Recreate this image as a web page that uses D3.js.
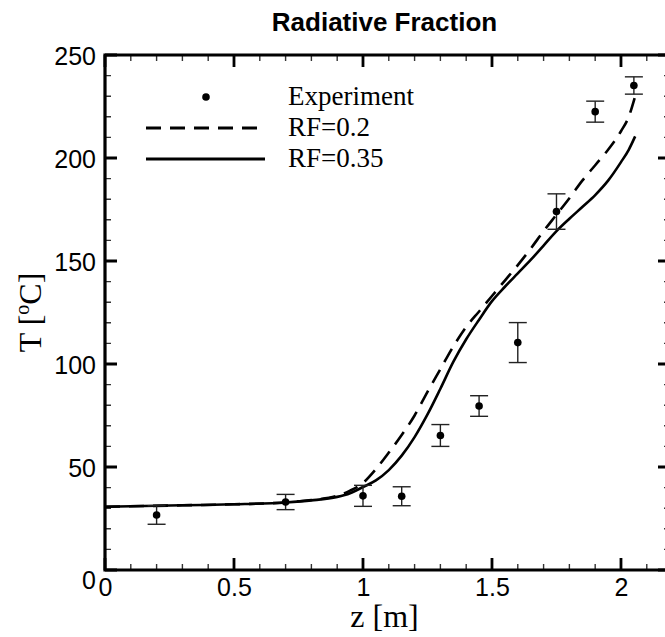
<!DOCTYPE html>
<html>
<head>
<meta charset="utf-8">
<script src="https://cdn.jsdelivr.net/npm/d3@7"></script>
</head>
<body style="margin:0">
<svg id="chart" width="665" height="637"></svg>
<script>
// Measured temperatures along the axis (z in m, T in °C, symmetric error)
const expZ   = [0.2, 0.7, 1.0, 1.15, 1.3, 1.45, 1.6, 1.75, 1.9, 2.05];
const expT   = [26.7, 33.0, 36.0, 35.8, 65.3, 79.6, 110.4, 174.0, 222.5, 235.2];
const expErr = [4.5, 3.7, 5.1, 4.6, 5.3, 5.0, 9.7, 8.6, 5.1, 4.2];

// Simulation, radiative fraction 0.2
const rf02Z = [0, 0.3, 0.5, 0.7, 0.8, 0.9, 0.95, 1.0, 1.05, 1.1, 1.15, 1.2, 1.25, 1.3, 1.35, 1.4, 1.45, 1.5, 1.55, 1.6, 1.65, 1.7, 1.75, 1.8, 1.85, 1.9, 1.95, 2.0, 2.03, 2.055];
const rf02T = [30.7, 31.4, 31.9, 32.8, 34.0, 36.0, 38.5, 42.3, 49.0, 57.0, 65.5, 75.0, 86.5, 97.5, 108.5, 118.0, 125.5, 133.0, 140.5, 148.0, 156.0, 164.5, 172.5, 180.5, 189.0, 196.5, 204.0, 213.0, 220.0, 230.0];

// Simulation, radiative fraction 0.35
const rf035Z = [0, 0.3, 0.5, 0.7, 0.8, 0.9, 0.95, 1.0, 1.05, 1.1, 1.15, 1.2, 1.25, 1.3, 1.35, 1.4, 1.45, 1.5, 1.55, 1.6, 1.65, 1.7, 1.75, 1.8, 1.85, 1.9, 1.95, 2.0, 2.03, 2.055];
const rf035T = [30.7, 31.4, 31.9, 32.8, 33.8, 35.5, 37.3, 40.3, 43.5, 48.5, 55.5, 64.5, 75.5, 88.0, 101.0, 112.0, 121.5, 130.5, 137.5, 144.0, 150.5, 157.5, 164.5, 170.5, 176.2, 182.0, 189.0, 198.0, 204.0, 210.5];

// Axis ticks
const xMajor = [0, 0.5, 1, 1.5, 2];
const xMinor = [0.1, 0.2, 0.3, 0.4, 0.6, 0.7, 0.8, 0.9, 1.1, 1.2, 1.3, 1.4, 1.6, 1.7, 1.8, 1.9, 2.1];
const yMajor = [0, 50, 100, 150, 200, 250];
const yMinor = [10, 20, 30, 40, 60, 70, 80, 90, 110, 120, 130, 140, 160, 170, 180, 190, 210, 220, 230, 240];
const xLabels = ["0", "0.5", "1", "1.5", "2"];
const yLabels = ["0", "50", "100", "150", "200", "250"];

const legendItems = ["Experiment", "RF=0.2", "RF=0.35"];

const svg = d3.select("#chart");
const plotL = 105, plotR = 670, plotT = 55, plotB = 570;

const x = d3.scaleLinear().domain([0, 2.19]).range([plotL, plotR]);
const y = d3.scaleLinear().domain([0, 250]).range([plotB, plotT]);

const sans = "'Liberation Sans', Arial, Helvetica, sans-serif";
const serif = "'Liberation Serif', 'Times New Roman', serif";

// Title
svg.append("text")
  .attr("x", (plotL + 664) / 2).attr("y", 31)
  .attr("text-anchor", "middle")
  .attr("font-family", sans).attr("font-weight", "bold").attr("font-size", 26)
  .text("Radiative Fraction");

// Tick labels through d3 axes
const gx = svg.append("g").attr("transform", `translate(0,${plotB})`)
  .call(d3.axisBottom(x).tickValues(xMajor).tickSize(0).tickPadding(8)
    .tickFormat((d, i) => xLabels[i]));
gx.select(".domain").remove();
gx.selectAll(".tick text").attr("font-family", sans).attr("font-size", 25).attr("fill", "#000");

const gy = svg.append("g").attr("transform", `translate(${plotL},0)`)
  .call(d3.axisLeft(y).tickValues(yMajor).tickSize(0).tickPadding(9)
    .tickFormat((d, i) => yLabels[i]));
gy.select(".domain").remove();
gy.selectAll(".tick text").attr("font-family", sans).attr("font-size", 25).attr("fill", "#000")
  .attr("dy", d => d === 0 ? "0.72em" : "0.36em");

// Inward tick marks on all four sides, each set drawn as one path
function tickPath(xs, ys, len) {
  let p = "";
  xs.forEach(v => {
    const px = x(v);
    p += `M${px},${plotB}V${plotB - len}M${px},${plotT}V${plotT + len}`;
  });
  ys.forEach(v => {
    const py = y(v);
    p += `M${plotL},${py}H${plotL + len}M${plotR},${py}H${plotR - len}`;
  });
  return p;
}
svg.append("path").attr("d", tickPath(xMinor, yMinor, 6))
  .attr("fill", "none").attr("stroke", "#333").attr("stroke-width", 1.4);
svg.append("path").attr("d", tickPath(xMajor, yMajor, 12))
  .attr("fill", "none").attr("stroke", "#000").attr("stroke-width", 2.8);

// Frame
svg.append("path")
  .attr("d", `M${plotL},${plotT}H${plotR}V${plotB}H${plotL}Z`)
  .attr("fill", "none").attr("stroke", "#000").attr("stroke-width", 3.2);

// Axis titles
svg.append("text")
  .attr("x", (plotL + 664) / 2).attr("y", 627)
  .attr("text-anchor", "middle")
  .attr("font-family", serif).attr("font-size", 32).attr("fill", "#000")
  .text("z [m]");

const yt = svg.append("text")
  .attr("transform", `translate(41,${(plotT + plotB) / 2}) rotate(-90)`)
  .attr("text-anchor", "middle")
  .attr("font-family", serif).attr("font-size", 32).attr("fill", "#000");
yt.append("tspan").text("T [");
yt.append("tspan").attr("font-size", 20).attr("dy", -12).text("o");
yt.append("tspan").attr("dy", 12).text("C]");

// Simulation curves
const line = d3.line().x(d => x(d[0])).y(d => y(d[1])).curve(d3.curveMonotoneX);
const rf02 = rf02Z.map((z, i) => [z, rf02T[i]]);
const rf035 = rf035Z.map((z, i) => [z, rf035T[i]]);

svg.append("path").datum(rf02).attr("d", line)
  .attr("fill", "none").attr("stroke", "#000").attr("stroke-width", 2.6)
  .attr("stroke-dasharray", "15,9");
svg.append("path").datum(rf035).attr("d", line)
  .attr("fill", "none").attr("stroke", "#000").attr("stroke-width", 2.6);

// Experimental points with error bars
const exp = expZ.map((z, i) => ({ z, t: expT[i], e: expErr[i] }));
const eb = svg.append("g").attr("stroke", "#222").attr("stroke-width", 1.4);
exp.forEach(d => {
  eb.append("line").attr("x1", x(d.z)).attr("x2", x(d.z)).attr("y1", y(d.t - d.e)).attr("y2", y(d.t + d.e));
  eb.append("line").attr("x1", x(d.z) - 9).attr("x2", x(d.z) + 9).attr("y1", y(d.t - d.e)).attr("y2", y(d.t - d.e));
  eb.append("line").attr("x1", x(d.z) - 9).attr("x2", x(d.z) + 9).attr("y1", y(d.t + d.e)).attr("y2", y(d.t + d.e));
});
svg.append("g").selectAll("circle").data(exp).join("circle")
  .attr("cx", d => x(d.z)).attr("cy", d => y(d.t)).attr("r", 3.8).attr("fill", "#000");

// Legend
const lg = svg.append("g");
lg.append("circle").attr("cx", 206).attr("cy", 97).attr("r", 3.8).attr("fill", "#000");
lg.append("line").attr("x1", 146).attr("x2", 257).attr("y1", 128).attr("y2", 128)
  .attr("stroke", "#000").attr("stroke-width", 3).attr("stroke-dasharray", "15,9");
lg.append("line").attr("x1", 146).attr("x2", 265).attr("y1", 159).attr("y2", 159)
  .attr("stroke", "#000").attr("stroke-width", 3);
lg.selectAll("text").data(legendItems).join("text")
  .attr("x", 288).attr("y", (d, i) => 105 + i * 31)
  .attr("font-family", serif).attr("font-size", 27).attr("fill", "#000")
  .text(d => d);
</script>
</body>
</html>
